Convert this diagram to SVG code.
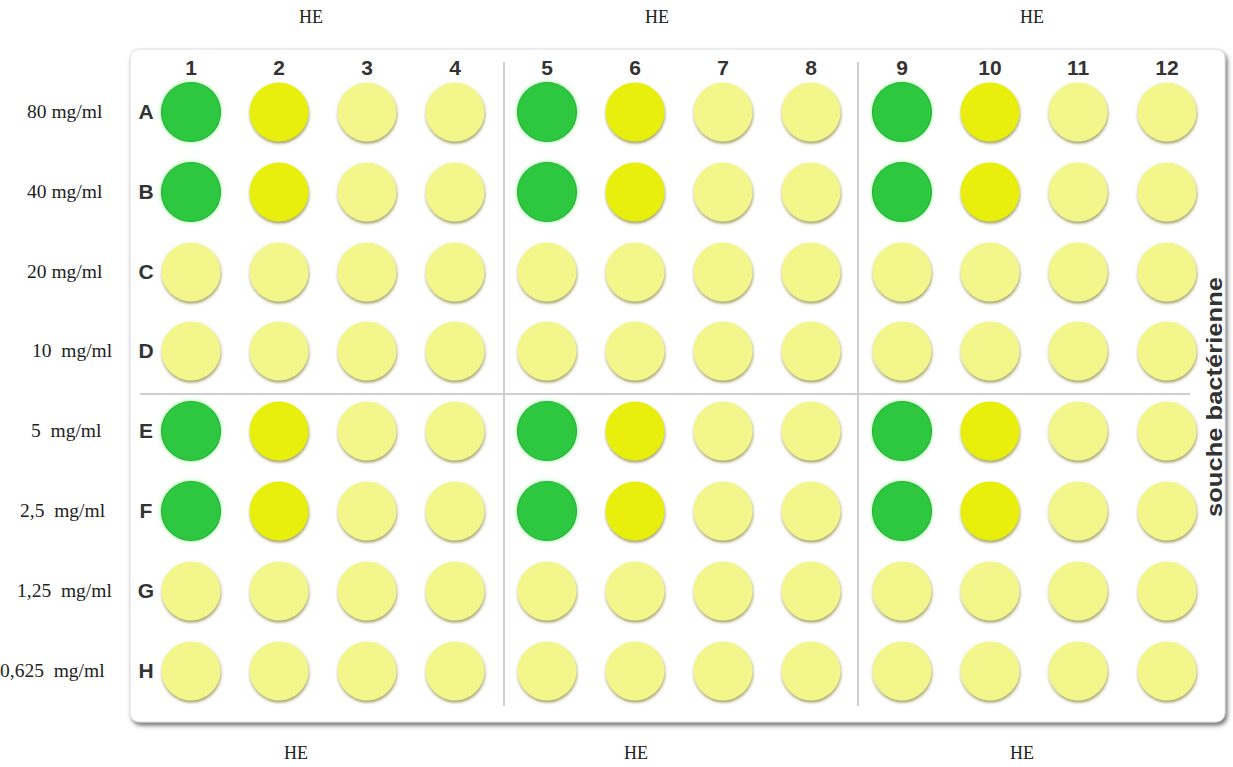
<svg xmlns="http://www.w3.org/2000/svg" width="1233" height="767" viewBox="0 0 1233 767">
<defs>
<filter id="plateShadow" x="-5%" y="-5%" width="110%" height="112%">
<feDropShadow dx="2" dy="3" stdDeviation="2" flood-color="#444" flood-opacity="0.75"/>
</filter>
<filter id="wellShadow" x="-30%" y="-30%" width="160%" height="170%">
<feDropShadow dx="0.5" dy="2" stdDeviation="1.5" flood-color="#7d7a2a" flood-opacity="0.75"/>
</filter>
<filter id="greenGlow" x="-30%" y="-30%" width="160%" height="160%">
<feDropShadow dx="0" dy="0" stdDeviation="2" flood-color="#6bff6b" flood-opacity="0.7"/>
</filter>
</defs>
<style>
.he{font-family:"Liberation Serif","Times New Roman",serif;font-size:18px;fill:#222;text-anchor:middle}
.conc{font-family:"Liberation Serif","Times New Roman",serif;font-size:19.5px;fill:#222;white-space:pre}
.num{font-family:"Liberation Sans",Arial,sans-serif;font-size:21px;font-weight:bold;fill:#333;text-anchor:middle}
.row{font-family:"Liberation Sans",Arial,sans-serif;font-size:21px;font-weight:bold;fill:#333;text-anchor:middle}
.side{font-family:"Liberation Sans",Arial,sans-serif;font-size:22px;font-weight:bold;fill:#333;text-anchor:middle}
.div{stroke:#cfcfcf;stroke-width:2}
.p{fill:#f3f68a;filter:url(#wellShadow)}
.y{fill:#e8ef0c;filter:url(#wellShadow)}
.g{fill:#2dc840;stroke:#26b138;stroke-width:1.2;filter:url(#greenGlow)}
</style>
<rect width="1233" height="767" fill="#ffffff"/>
<g id="labels-HE">
<text class="he" x="311" y="23">HE</text>
<text class="he" x="657" y="23">HE</text>
<text class="he" x="1032" y="23">HE</text>
<text class="he" x="296" y="759">HE</text>
<text class="he" x="636" y="759">HE</text>
<text class="he" x="1022" y="759">HE</text>
</g>
<g id="labels-concentration">
<text class="conc" x="27" y="118">80 mg/ml</text>
<text class="conc" x="27" y="198">40 mg/ml</text>
<text class="conc" x="27" y="278">20 mg/ml</text>
<text class="conc" x="32" y="357">10  mg/ml</text>
<text class="conc" x="31" y="437">5  mg/ml</text>
<text class="conc" x="20" y="517">2,5  mg/ml</text>
<text class="conc" x="17" y="597">1,25  mg/ml</text>
<text class="conc" x="0" y="677">0,625  mg/ml</text>
</g>
<g id="plate">
<rect x="130" y="49" width="1095" height="673" rx="9" fill="#ffffff" stroke="#dcdcdc" stroke-width="1" filter="url(#plateShadow)"/>
<line class="div" x1="504" y1="62" x2="504" y2="706"/>
<line class="div" x1="858" y1="62" x2="858" y2="706"/>
<line class="div" x1="140" y1="394" x2="1190" y2="394"/>
</g>
<g id="column-numbers">
<text class="num" x="191" y="75">1</text>
<text class="num" x="279" y="75">2</text>
<text class="num" x="367" y="75">3</text>
<text class="num" x="455" y="75">4</text>
<text class="num" x="547" y="75">5</text>
<text class="num" x="635" y="75">6</text>
<text class="num" x="723" y="75">7</text>
<text class="num" x="811" y="75">8</text>
<text class="num" x="902" y="75">9</text>
<text class="num" x="990" y="75">10</text>
<text class="num" x="1078" y="75">11</text>
<text class="num" x="1167" y="75">12</text>
</g>
<g id="row-letters">
<text class="row" x="146" y="119">A</text>
<text class="row" x="146" y="199">B</text>
<text class="row" x="146" y="279">C</text>
<text class="row" x="146" y="358">D</text>
<text class="row" x="146" y="438">E</text>
<text class="row" x="146" y="518">F</text>
<text class="row" x="146" y="598">G</text>
<text class="row" x="146" y="678">H</text>
</g>
<text class="side" transform="translate(1222,397) rotate(-90)" textLength="240" lengthAdjust="spacingAndGlyphs">souche bactérienne</text>
<g id="row-A">
<circle id="A1" class="g" cx="191" cy="112" r="29.5"/><circle id="A2" class="y" cx="279" cy="112" r="29.5"/><circle id="A3" class="p" cx="367" cy="112" r="29.5"/><circle id="A4" class="p" cx="455" cy="112" r="29.5"/>
<circle id="A5" class="g" cx="547" cy="112" r="29.5"/><circle id="A6" class="y" cx="635" cy="112" r="29.5"/><circle id="A7" class="p" cx="723" cy="112" r="29.5"/><circle id="A8" class="p" cx="811" cy="112" r="29.5"/>
<circle id="A9" class="g" cx="902" cy="112" r="29.5"/><circle id="A10" class="y" cx="990" cy="112" r="29.5"/><circle id="A11" class="p" cx="1078" cy="112" r="29.5"/><circle id="A12" class="p" cx="1167" cy="112" r="29.5"/>
</g>
<g id="row-B">
<circle id="B1" class="g" cx="191" cy="192" r="29.5"/><circle id="B2" class="y" cx="279" cy="192" r="29.5"/><circle id="B3" class="p" cx="367" cy="192" r="29.5"/><circle id="B4" class="p" cx="455" cy="192" r="29.5"/>
<circle id="B5" class="g" cx="547" cy="192" r="29.5"/><circle id="B6" class="y" cx="635" cy="192" r="29.5"/><circle id="B7" class="p" cx="723" cy="192" r="29.5"/><circle id="B8" class="p" cx="811" cy="192" r="29.5"/>
<circle id="B9" class="g" cx="902" cy="192" r="29.5"/><circle id="B10" class="y" cx="990" cy="192" r="29.5"/><circle id="B11" class="p" cx="1078" cy="192" r="29.5"/><circle id="B12" class="p" cx="1167" cy="192" r="29.5"/>
</g>
<g id="row-C">
<circle id="C1" class="p" cx="191" cy="272" r="29.5"/><circle id="C2" class="p" cx="279" cy="272" r="29.5"/><circle id="C3" class="p" cx="367" cy="272" r="29.5"/><circle id="C4" class="p" cx="455" cy="272" r="29.5"/>
<circle id="C5" class="p" cx="547" cy="272" r="29.5"/><circle id="C6" class="p" cx="635" cy="272" r="29.5"/><circle id="C7" class="p" cx="723" cy="272" r="29.5"/><circle id="C8" class="p" cx="811" cy="272" r="29.5"/>
<circle id="C9" class="p" cx="902" cy="272" r="29.5"/><circle id="C10" class="p" cx="990" cy="272" r="29.5"/><circle id="C11" class="p" cx="1078" cy="272" r="29.5"/><circle id="C12" class="p" cx="1167" cy="272" r="29.5"/>
</g>
<g id="row-D">
<circle id="D1" class="p" cx="191" cy="351" r="29.5"/><circle id="D2" class="p" cx="279" cy="351" r="29.5"/><circle id="D3" class="p" cx="367" cy="351" r="29.5"/><circle id="D4" class="p" cx="455" cy="351" r="29.5"/>
<circle id="D5" class="p" cx="547" cy="351" r="29.5"/><circle id="D6" class="p" cx="635" cy="351" r="29.5"/><circle id="D7" class="p" cx="723" cy="351" r="29.5"/><circle id="D8" class="p" cx="811" cy="351" r="29.5"/>
<circle id="D9" class="p" cx="902" cy="351" r="29.5"/><circle id="D10" class="p" cx="990" cy="351" r="29.5"/><circle id="D11" class="p" cx="1078" cy="351" r="29.5"/><circle id="D12" class="p" cx="1167" cy="351" r="29.5"/>
</g>
<g id="row-E">
<circle id="E1" class="g" cx="191" cy="431" r="29.5"/><circle id="E2" class="y" cx="279" cy="431" r="29.5"/><circle id="E3" class="p" cx="367" cy="431" r="29.5"/><circle id="E4" class="p" cx="455" cy="431" r="29.5"/>
<circle id="E5" class="g" cx="547" cy="431" r="29.5"/><circle id="E6" class="y" cx="635" cy="431" r="29.5"/><circle id="E7" class="p" cx="723" cy="431" r="29.5"/><circle id="E8" class="p" cx="811" cy="431" r="29.5"/>
<circle id="E9" class="g" cx="902" cy="431" r="29.5"/><circle id="E10" class="y" cx="990" cy="431" r="29.5"/><circle id="E11" class="p" cx="1078" cy="431" r="29.5"/><circle id="E12" class="p" cx="1167" cy="431" r="29.5"/>
</g>
<g id="row-F">
<circle id="F1" class="g" cx="191" cy="511" r="29.5"/><circle id="F2" class="y" cx="279" cy="511" r="29.5"/><circle id="F3" class="p" cx="367" cy="511" r="29.5"/><circle id="F4" class="p" cx="455" cy="511" r="29.5"/>
<circle id="F5" class="g" cx="547" cy="511" r="29.5"/><circle id="F6" class="y" cx="635" cy="511" r="29.5"/><circle id="F7" class="p" cx="723" cy="511" r="29.5"/><circle id="F8" class="p" cx="811" cy="511" r="29.5"/>
<circle id="F9" class="g" cx="902" cy="511" r="29.5"/><circle id="F10" class="y" cx="990" cy="511" r="29.5"/><circle id="F11" class="p" cx="1078" cy="511" r="29.5"/><circle id="F12" class="p" cx="1167" cy="511" r="29.5"/>
</g>
<g id="row-G">
<circle id="G1" class="p" cx="191" cy="591" r="29.5"/><circle id="G2" class="p" cx="279" cy="591" r="29.5"/><circle id="G3" class="p" cx="367" cy="591" r="29.5"/><circle id="G4" class="p" cx="455" cy="591" r="29.5"/>
<circle id="G5" class="p" cx="547" cy="591" r="29.5"/><circle id="G6" class="p" cx="635" cy="591" r="29.5"/><circle id="G7" class="p" cx="723" cy="591" r="29.5"/><circle id="G8" class="p" cx="811" cy="591" r="29.5"/>
<circle id="G9" class="p" cx="902" cy="591" r="29.5"/><circle id="G10" class="p" cx="990" cy="591" r="29.5"/><circle id="G11" class="p" cx="1078" cy="591" r="29.5"/><circle id="G12" class="p" cx="1167" cy="591" r="29.5"/>
</g>
<g id="row-H">
<circle id="H1" class="p" cx="191" cy="671" r="29.5"/><circle id="H2" class="p" cx="279" cy="671" r="29.5"/><circle id="H3" class="p" cx="367" cy="671" r="29.5"/><circle id="H4" class="p" cx="455" cy="671" r="29.5"/>
<circle id="H5" class="p" cx="547" cy="671" r="29.5"/><circle id="H6" class="p" cx="635" cy="671" r="29.5"/><circle id="H7" class="p" cx="723" cy="671" r="29.5"/><circle id="H8" class="p" cx="811" cy="671" r="29.5"/>
<circle id="H9" class="p" cx="902" cy="671" r="29.5"/><circle id="H10" class="p" cx="990" cy="671" r="29.5"/><circle id="H11" class="p" cx="1078" cy="671" r="29.5"/><circle id="H12" class="p" cx="1167" cy="671" r="29.5"/>
</g>
</svg>
